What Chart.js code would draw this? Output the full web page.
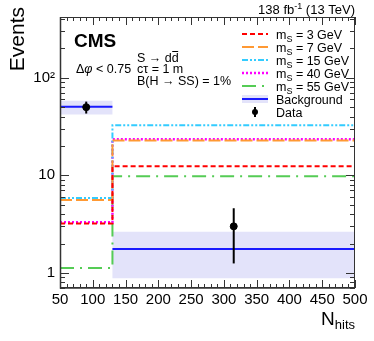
<!DOCTYPE html>
<html lang="en">
<head>
<meta charset="UTF-8" />
<title>Nhits</title>
<script src="https://cdn.jsdelivr.net/npm/chart.js"></script>
<style>
  body { margin: 0; background: #fff; }
  canvas { display: block; }
</style>
</head>
<body>
<canvas id="nhitsChart" width="374" height="341"></canvas>
<script>
// histogram bins (two bins: 50-130, 130-500)
const binEdges = [50, 130, 500];
const massPoints = [3, 7, 15, 40, 55]; // m_S in GeV
const sig3 = [3.2, 12.4];
const sig7 = [5.6, 22.8];
const sig15 = [5.85, 32.6];
const sig40 = [3.3, 23.5];
const sig55 = [1.12, 9.8];
const bkg = [50.5, 1.76];
const bkgUp = [58, 2.64];
const bkgDown = [42, 0.88];
const dataX = [90, 315];
const dataY = [50, 3];
const dataLow = [43, 1.25];
const dataHigh = [57, 4.6];
const xTickLabels = [50, 100, 150, 200, 250, 300, 350, 400, 450, 500];
const yTickLabels = [1, 10, 100];

const FONT = "'Liberation Sans', Arial, sans-serif";

// stepped outline: one point per bin edge
function histPoints(vals) {
  return binEdges.map((x, i) => ({ x: x, y: vals[Math.min(i, vals.length - 1)] }));
}
// flat segments only, no vertical joins
function histSegments(vals) {
  const pts = [];
  vals.forEach((v, i) => {
    if (i > 0) pts.push({ x: binEdges[i], y: null });
    pts.push({ x: binEdges[i], y: v });
    pts.push({ x: binEdges[i + 1], y: v });
  });
  return pts;
}

const signalStyles = [
  { color: "#ff0000", dash: [5, 3], width: 2 },
  { color: "#ff9933", dash: [12, 4], width: 2 },
  { color: "#33ccff", dash: [6, 2, 2, 2, 2, 2], width: 2 },
  { color: "#ff00ff", dash: [2, 2], width: 2.5 },
  { color: "#55cc55", dash: [14, 6, 2, 6], width: 2 },
];
const signals = [sig3, sig7, sig15, sig40, sig55];

const datasets = [];
datasets.push({
  label: "Data",
  data: dataX.map((x, i) => ({ x: x, y: dataY[i] })),
  showLine: false,
  pointRadius: 3.5,
  pointBackgroundColor: "#000",
  pointBorderColor: "#000",
  order: 0,
});
datasets.push({
  label: "Background",
  data: histSegments(bkg),
  spanGaps: false,
  borderColor: "#1a1aff",
  borderWidth: 2,
  pointRadius: 0,
  fill: false,
  order: 1,
});
signals.forEach((s, i) => {
  datasets.push({
    label: "m_S = " + massPoints[i] + " GeV",
    data: histPoints(s),
    stepped: "before",
    borderColor: signalStyles[i].color,
    borderDash: signalStyles[i].dash,
    borderWidth: signalStyles[i].width,
    pointRadius: 0,
    fill: false,
    order: 2 + i,
  });
});
datasets.push({
  label: "bkgUp",
  data: histPoints(bkgUp),
  stepped: "before",
  borderWidth: 0,
  borderColor: "rgba(0,0,0,0)",
  pointRadius: 0,
  fill: false,
  order: 20,
});
datasets.push({
  label: "bkgDown",
  data: histPoints(bkgDown),
  stepped: "before",
  borderWidth: 0,
  borderColor: "rgba(0,0,0,0)",
  backgroundColor: "#e3e3fa",
  pointRadius: 0,
  fill: "-1",
  order: 21,
});

// text drawing with sub/superscripts: parts = [text, size, dy, italic]
function drawRich(ctx, x, y, parts, align) {
  let total = 0;
  parts.forEach((p) => {
    ctx.font = (p[3] ? "italic " : "") + p[1] + "px " + FONT;
    total += ctx.measureText(p[0]).width;
  });
  let cx = align === "right" ? x - total : x;
  ctx.textAlign = "left";
  ctx.textBaseline = "alphabetic";
  parts.forEach((p) => {
    ctx.font = (p[3] ? "italic " : "") + p[1] + "px " + FONT;
    ctx.fillText(p[0], cx, y + p[2]);
    cx += ctx.measureText(p[0]).width;
  });
  return cx;
}

const framePlugin = {
  id: "frame",
  afterDatasetsDraw(chart) {
    const ctx = chart.ctx;
    const xs = chart.scales.x, ys = chart.scales.y;
    const a = chart.chartArea;
    ctx.save();
    // error bars
    ctx.strokeStyle = "#000";
    ctx.lineWidth = 2;
    dataX.forEach((x, i) => {
      const px = xs.getPixelForValue(x);
      ctx.beginPath();
      ctx.moveTo(px, ys.getPixelForValue(dataLow[i]));
      ctx.lineTo(px, ys.getPixelForValue(dataHigh[i]));
      ctx.stroke();
    });
    // frame
    ctx.strokeStyle = "#333";
    ctx.lineWidth = 1;
    ctx.strokeRect(a.left + 0.5, a.top + 0.5, a.right - a.left - 1, a.bottom - a.top - 1);
    ctx.lineWidth = 1.5;
    ctx.beginPath();
    ctx.moveTo(a.left + 0.5, a.top);
    ctx.lineTo(a.left + 0.5, a.bottom);
    ctx.lineTo(a.right, a.bottom);
    ctx.stroke();
    ctx.lineWidth = 1;
    ctx.beginPath();
    // x ticks every 10, major every 50
    for (let v = 50; v <= 500; v += 10) {
      const px = Math.round(xs.getPixelForValue(v)) + 0.5;
      const len = v % 50 === 0 ? 8 : 4;
      ctx.moveTo(px, a.bottom);
      ctx.lineTo(px, a.bottom - len);
      ctx.moveTo(px, a.top);
      ctx.lineTo(px, a.top + len);
    }
    // y log ticks
    for (let d = 0.1; d <= 100; d *= 10) {
      for (let m = 1; m <= 9; m++) {
        const v = d * m;
        if (v < ys.min || v > ys.max) continue;
        const py = Math.round(ys.getPixelForValue(v)) + 0.5;
        const len = m === 1 ? 9 : 5;
        ctx.moveTo(a.left, py);
        ctx.lineTo(a.left + len, py);
        ctx.moveTo(a.right, py);
        ctx.lineTo(a.right - len, py);
      }
    }
    ctx.stroke();
    ctx.restore();
  },
  afterDraw(chart) {
    const ctx = chart.ctx;
    ctx.save();
    ctx.fillStyle = "#000";
    // axis titles
    ctx.save();
    ctx.translate(24, 7);
    ctx.rotate(-Math.PI / 2);
    ctx.font = "21px " + FONT;
    ctx.textAlign = "right";
    ctx.textBaseline = "alphabetic";
    ctx.fillText("Events", 0, 0);
    ctx.restore();
    drawRich(ctx, 355, 325, [["N", 19, 0], ["hits", 13, 4]], "right");
    // lumi
    drawRich(ctx, 355, 13.5, [["138 fb", 13, 0], ["-1", 9, -5], [" (13 TeV)", 13, 0]], "right");
    // CMS + selection text
    ctx.font = "bold 19px " + FONT;
    ctx.fillText("CMS", 74, 47);
    drawRich(ctx, 76, 72.5, [["\u0394", 12.5, 0], ["\u03c6", 12.5, 0, true], [" < 0.75", 12.5, 0]]);
    const endS = drawRich(ctx, 137, 61.5, [["S \u2192 d", 12.5, 0]]);
    const endD = drawRich(ctx, endS, 61.5, [["d", 12.5, 0]]);
    ctx.strokeStyle = "#000";
    ctx.lineWidth = 1;
    ctx.beginPath();
    ctx.moveTo(endS + 0.5, 51.5);
    ctx.lineTo(endD - 0.5, 51.5);
    ctx.stroke();
    drawRich(ctx, 137, 72.5, [["c\u03c4 = 1 m", 12.5, 0]]);
    drawRich(ctx, 137, 84.5, [["B(H \u2192 SS) = 1%", 12.5, 0]]);

    // legend
    const x0 = 242, x1 = 268, tx = 276, y0 = 34, step = 13;
    const fs = 12.5;
    const metas = chart.data.datasets;
    signals.forEach((s, i) => {
      const ds = metas[2 + i];
      const yy = y0 + i * step;
      ctx.save();
      ctx.strokeStyle = ds.borderColor;
      ctx.lineWidth = ds.borderWidth;
      ctx.setLineDash(ds.borderDash);
      ctx.beginPath();
      ctx.moveTo(x0, yy);
      ctx.lineTo(x1, yy);
      ctx.stroke();
      ctx.restore();
      drawRich(ctx, tx, yy + 4.5, [["m", fs, 0], ["S", 9, 3], [" = " + massPoints[i] + " GeV", fs, 0]]);
    });
    let yy = y0 + 5 * step;
    ctx.fillStyle = metas[8].backgroundColor;
    ctx.fillRect(x0, yy - 4, x1 - x0, 8);
    ctx.strokeStyle = metas[1].borderColor;
    ctx.lineWidth = 2;
    ctx.beginPath();
    ctx.moveTo(x0, yy);
    ctx.lineTo(x1, yy);
    ctx.stroke();
    ctx.fillStyle = "#000";
    drawRich(ctx, tx, yy + 4.5, [["Background", fs, 0]]);
    yy = y0 + 6 * step;
    ctx.fillStyle = "#000";
    ctx.strokeStyle = "#000";
    ctx.beginPath();
    ctx.arc(255, yy, 3, 0, Math.PI * 2);
    ctx.fill();
    ctx.lineWidth = 2;
    ctx.beginPath();
    ctx.moveTo(255, yy - 5);
    ctx.lineTo(255, yy + 5);
    ctx.stroke();
    drawRich(ctx, tx, yy + 4.5, [["Data", fs, 0]]);
    ctx.restore();
  },
};

new Chart(document.getElementById("nhitsChart").getContext("2d"), {
  type: "line",
  data: { datasets: datasets },
  options: {
    responsive: false,
    animation: false,
    layout: { padding: { top: 17, right: 19, left: 0, bottom: 0 } },
    plugins: { legend: { display: false }, tooltip: { enabled: false } },
    scales: {
      x: {
        type: "linear",
        min: 50,
        max: 500,
        grid: { display: false, drawTicks: false },
        border: { display: false },
        ticks: { color: "#000", font: { family: FONT, size: 15 }, padding: 3, maxRotation: 0, autoSkip: false },
        afterBuildTicks: (s) => { s.ticks = xTickLabels.map((v) => ({ value: v })); },
        afterFit: (s) => { s.height = 53; },
      },
      y: {
        type: "logarithmic",
        min: 0.7,
        max: 420,
        grid: { display: false, drawTicks: false },
        border: { display: false },
        ticks: {
          color: "#000",
          font: { family: FONT, size: 15 },
          padding: 5,
          autoSkip: false,
          callback: (v) => (v === 100 ? "10\u00b2" : String(v)),
        },
        afterBuildTicks: (s) => { s.ticks = yTickLabels.map((v) => ({ value: v })); },
        afterFit: (s) => { s.width = 60; },
      },
    },
  },
  plugins: [framePlugin],
});
</script>
</body>
</html>
